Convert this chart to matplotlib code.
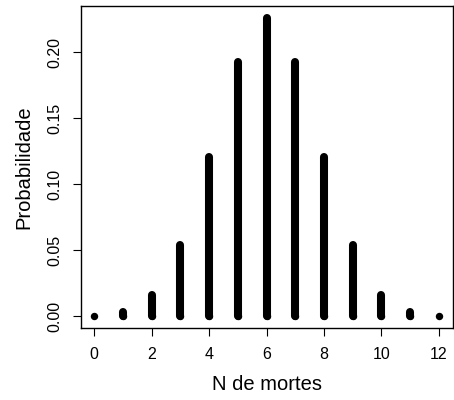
import matplotlib
matplotlib.use("Agg")
import matplotlib.pyplot as plt

plt.rcParams["font.family"] = ["Liberation Sans", "DejaVu Sans"]

# number of deaths and probability
n_mortes = [0, 1, 2, 3, 4, 5, 6, 7, 8, 9, 10, 11, 12]
prob = [0.0002, 0.003, 0.016, 0.054, 0.121, 0.193, 0.226,
        0.193, 0.121, 0.054, 0.016, 0.003, 0.0002]
xticks = [0, 2, 4, 6, 8, 10, 12]
yticks = [0.00, 0.05, 0.10, 0.15, 0.20]

W, H = 454, 400
fig = plt.figure(figsize=(W / 100, H / 100), dpi=100)
ax = fig.add_axes([80.5 / W, (H - 328) / H, (452.5 - 80.5) / W, (328 - 6) / H])

lw = 5.8
for x, p in zip(n_mortes, prob):
    ax.plot([x, x], [0, p], color="black", lw=lw, solid_capstyle="round")
# dots for the near-zero spikes (too short for a visible segment)
ax.scatter(n_mortes, [0] * len(n_mortes), s=(lw * 0.92) ** 2,
           color="black", lw=0, zorder=3)

ax.set_xlim(-0.48, 12.48)
ax.set_ylim(-0.009, 0.2351)
ax.set_xticks(xticks)
ax.set_xticklabels([str(t) for t in xticks])
ax.set_yticks(yticks)
ax.set_yticklabels([f"{t:.2f}" for t in yticks], rotation=90, va="center")
ax.tick_params(axis="both", length=6, width=0.8, labelsize=11.5, color="black")
ax.tick_params(axis="x", pad=8)
ax.tick_params(axis="y", pad=7)
for s in ax.spines.values():
    s.set_linewidth(1.0)

ax.set_xlabel("N de mortes", fontsize=14.5, labelpad=9)
ax.set_ylabel("Probabilidade", fontsize=14.5, labelpad=10)

fig.savefig("out.png", dpi=100)
